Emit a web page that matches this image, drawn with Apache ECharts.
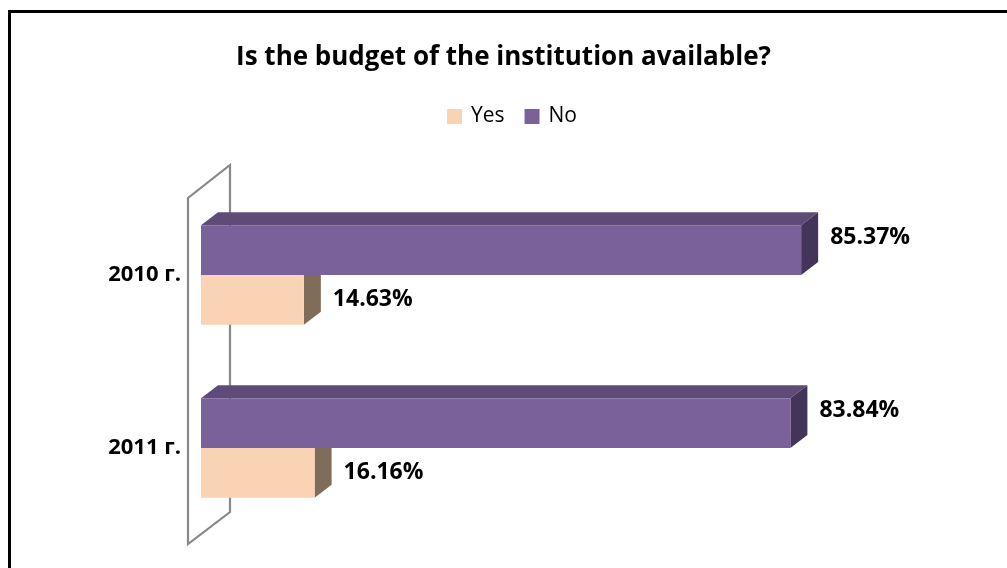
<!DOCTYPE html>
<html>
<head>
<meta charset="utf-8">
<script src="https://cdn.jsdelivr.net/npm/echarts@6/dist/echarts.min.js"></script>
<style>html,body{margin:0;padding:0;background:#fff;}#c{width:1007px;height:568px;}</style>
</head>
<body>
<div id="c"></div>
<script>
const categories = ['2010 г.', '2011 г.'];
const yesValues = [14.63, 16.16];
const noValues = [85.37, 83.84];
const seriesNames = ['Yes', 'No'];

const DX = 17, DY = -13;
const FONT = '"Open Sans", "Noto Sans", sans-serif';

function makeRender(upper, front, top, side, labelDy) {
  return function (params, api) {
    const v = api.value(0), c = api.value(1);
    const s = api.coord([0, c]);
    const e = api.coord([v, c]);
    const band = api.size([0, 1])[1];
    const h = band * 0.288;
    const x0 = s[0], x1 = e[0];
    const y0 = upper ? s[1] - h : s[1];
    return {
      type: 'group',
      children: [
        { type: 'polygon', shape: { points: [[x0, y0], [x0 + DX, y0 + DY], [x1 + DX, y0 + DY], [x1, y0]] }, style: { fill: top } },
        { type: 'polygon', shape: { points: [[x1, y0], [x1 + DX, y0 + DY], [x1 + DX, y0 + h + DY], [x1, y0 + h]] }, style: { fill: side } },
        { type: 'rect', shape: { x: x0, y: y0, width: x1 - x0, height: h }, style: { fill: front } },
        { type: 'text', style: { text: v.toFixed(2) + '%', x: x1 + DX + 12, y: y0 + h / 2 + labelDy, verticalAlign: 'middle', align: 'left', font: 'bold 23px ' + FONT, fill: '#000' } }
      ]
    };
  };
}

const chart = echarts.init(document.getElementById('c'), null, { renderer: 'canvas' });
chart.setOption({
  backgroundColor: '#fff',
  animation: false,
  title: {
    text: 'Is the budget of the institution available?',
    left: 'center',
    top: 40,
    textStyle: { fontFamily: FONT, fontWeight: 'bold', fontSize: 26, color: '#000' }
  },
  legend: {
    top: 101,
    left: 442,
    icon: 'rect',
    itemWidth: 15,
    itemHeight: 15,
    itemGap: 20,
    textStyle: { fontFamily: FONT, fontSize: 21, color: '#000', padding: [0, 0, 0, 4] },
    data: seriesNames
  },
  grid: { left: 201, right: 103, top: 188.5, bottom: 33.5 },
  xAxis: { type: 'value', min: 0, max: 100, show: false },
  yAxis: {
    type: 'category',
    data: categories,
    inverse: true,
    axisLine: { show: false },
    axisTick: { show: false },
    axisLabel: {
      margin: 20,
      padding: [24, 0, 0, 0],
      fontFamily: FONT,
      fontWeight: 'bold',
      fontSize: 22,
      color: '#000'
    }
  },
  graphic: [
    { type: 'rect', shape: { x: 9.5, y: 11.5, width: 1100, height: 700 }, style: { fill: 'none', stroke: '#000', lineWidth: 3 }, z: 100 },
    { type: 'polygon', shape: { points: [[188, 544], [188, 198], [230, 165], [230, 512]] }, style: { fill: 'none', stroke: '#888', lineWidth: 2.2 }, z: -1 }
  ],
  series: [
    {
      name: 'Yes', type: 'custom',
      itemStyle: { color: '#FAD3B4' },
      encode: { x: 0, y: 1 },
      data: yesValues.map((v, i) => [v, i]),
      renderItem: makeRender(false, '#FAD3B4', '#FCE3CF', '#7F6D5A', 0)
    },
    {
      name: 'No', type: 'custom',
      itemStyle: { color: '#7B6199' },
      encode: { x: 0, y: 1 },
      data: noValues.map((v, i) => [v, i]),
      renderItem: makeRender(true, '#7B6199', '#5E4B78', '#433459', -13)
    }
  ]
});
</script>
</body>
</html>
